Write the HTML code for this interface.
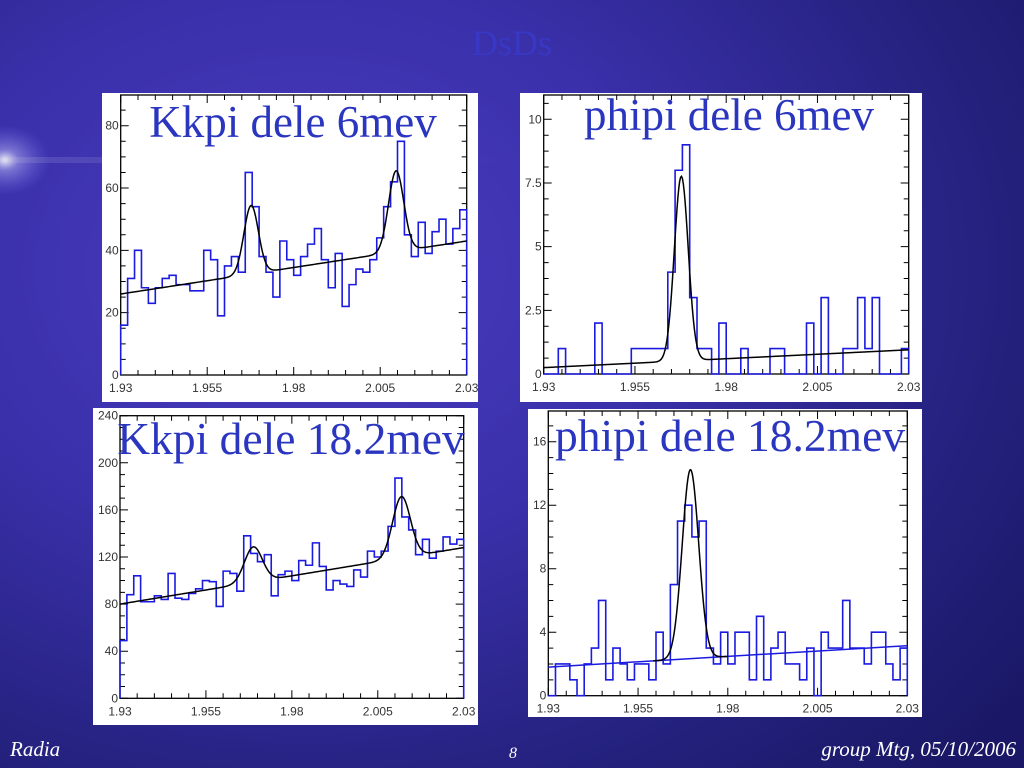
<!DOCTYPE html>
<html><head><meta charset="utf-8"><style>
html,body{margin:0;padding:0;width:1024px;height:768px;overflow:hidden}
body{background:radial-gradient(ellipse 900px 700px at 30% 35%,#4a3cc0 0%,#3a30aa 40%,#22207a 80%,#1a1866 100%);font-family:"Liberation Sans",sans-serif}
svg{position:absolute;left:0;top:0}
</style></head><body>
<svg id="s" width="1024" height="768">
<defs>
<radialGradient id="flare" cx="0.5" cy="0.5" r="0.5"><stop offset="0" stop-color="#fff" stop-opacity="0.9"/><stop offset="0.3" stop-color="#c8c8ff" stop-opacity="0.45"/><stop offset="1" stop-color="#8080ff" stop-opacity="0"/></radialGradient>
<linearGradient id="streak" x1="0" x2="1"><stop offset="0" stop-color="#ccd" stop-opacity="0.5"/><stop offset="1" stop-color="#88f" stop-opacity="0"/></linearGradient>
</defs>
<ellipse cx="5" cy="160" rx="45" ry="35" fill="url(#flare)"/>
<rect x="0" y="157" width="520" height="6" fill="url(#streak)" opacity="0.35"/>
<text x="512" y="55" text-anchor="middle" font-family="Liberation Serif, serif" font-size="36" fill="#3838c4">DsDs</text>
<text x="10" y="756" font-family="Liberation Serif, serif" font-style="italic" font-size="21" fill="#fff">Radia</text>
<text x="513" y="758" text-anchor="middle" font-family="Liberation Serif, serif" font-style="italic" font-size="16" fill="#fff">8</text>
<text x="1016" y="756" text-anchor="end" font-family="Liberation Serif, serif" font-style="italic" font-size="21" fill="#fff">group Mtg, 05/10/2006</text>
<g id="charts"></g>
</svg>
<script>
// Shared axis data
const xTicks = [1.93, 1.955, 1.98, 2.005, 2.03];
const xTickLabels = ["1.93", "1.955", "1.98", "2.005", "2.03"];
// Panel 1: Kkpi dele 6mev
const kk6Counts = [16,31,40,28,23,28,31,32,29,29,27,27,40,37,19,35,38,33,65,54,38,33,25,43,37,32,38,42,47,37,28,39,22,29,34,33,37,44,54,62,75,45,38,49,39,46,50,42,47,53];
const kk6Bg = [26, 43];
const kk6Peaks = [[1.9677, 22, 0.0021], [2.0096, 26, 0.0022]];
const kk6YTicks = [0, 20, 40, 60, 80];
// Panel 2: phipi dele 6mev
const pp6Counts = [0,0,1,0,0,0,0,2,0,0,0,0,1,1,1,1,1,4,8,9,3,1,1,0,2,0,0,1,0,0,0,1,1,0,0,0,2,0,3,0,0,1,1,3,1,3,0,0,0,1];
const pp6Bg = [0.25, 0.95];
const pp6Peaks = [[1.9677, 7.25, 0.0019]];
const pp6YTicks = [0, 2.5, 5, 7.5, 10];
const pp6YLabels = ["0", "2.5", "5", "7.5", "10"];
// Panel 3: Kkpi dele 18.2mev
const kk18Counts = [49,88,104,82,82,87,84,106,85,84,89,93,100,99,78,108,106,91,138,123,116,122,87,105,108,100,117,113,132,112,92,100,97,95,109,103,125,120,125,146,187,154,143,122,135,119,125,137,131,135];
const kk18Bg = [80, 128];
const kk18Peaks = [[1.9688, 30, 0.0026], [2.0119, 52, 0.0026]];
const kk18YTicks = [0, 40, 80, 120, 160, 200, 240];
// Panel 4: phipi dele 18.2mev
const pp18Counts = [0,2,2,1,0,2,3,6,1,3,2,1,2,2,1,4,2,7,11,12,10,11,3,2,4,2,4,4,1,5,1,3,4,2,2,1,3,0,4,3,3,6,3,3,2,4,4,2,1,3];
const pp18Bg = [1.8, 3.15];
const pp18Peaks = [[1.9696, 11.9, 0.0023]];
const pp18YTicks = [0, 4, 8, 12, 16];

const NS = "http://www.w3.org/2000/svg";
const root = document.getElementById('charts');
function mk(tag, attrs, parent) {
  const e = document.createElementNS(NS, tag);
  for (const k in attrs) e.setAttribute(k, attrs[k]);
  parent.appendChild(e);
  return e;
}
function panel(cfg, counts, bg, peaks, yTicks, yLabels) {
  const g = mk('g', {}, root);
  
  
  const bgRect = mk('rect', {x: cfg.bx, y: cfg.by, width: cfg.bw, height: cfg.bh, fill: '#fff'}, g);
  
  
  const xmin = 1.93, xmax = 2.03;
  const X = v => cfg.x0 + (v - xmin) / (xmax - xmin) * (cfg.x1 - cfg.x0);
  const Y = v => cfg.y0 - v / cfg.yRef * (cfg.y0 - cfg.yRefPx);
  const fr = mk('rect', {x: cfg.x0, y: cfg.top, width: cfg.x1 - cfg.x0, height: cfg.y0 - cfg.top, fill: 'none', stroke: '#000', 'stroke-width': 1.3}, g);
  
  
  let d = '';
  for (let i = 0; i <= 20; i++) {
    const v = xmin + i * 0.005, px = X(v), L = (i % 5 === 0) ? 8 : 5;
    d += `M${px},${cfg.y0}v${-L}M${px},${cfg.top}v${L}`;
  }
  const yMaxV = (cfg.y0 - cfg.top) / (cfg.y0 - cfg.yRefPx) * cfg.yRef;
  const step = yTicks[1] - yTicks[0];
  for (let v = 0; v <= yMaxV; v += step / 4) {
    const py = Y(v), major = Math.abs(v / step - Math.round(v / step)) < 1e-6, L = major ? 8 : 5;
    d += `M${cfg.x0},${py}h${L}M${cfg.x1},${py}h${-L}`;
  }
  const tk = mk('path', {d: d, stroke: '#000', 'stroke-width': 1, fill: 'none'}, g);
  
  
  xTicks.forEach((v, i) => {
    const t = mk('text', {x: X(v), y: cfg.y0 + 17, 'text-anchor': 'middle', 'font-size': 12, fill: '#333'}, g);
    t.textContent = xTickLabels[i];
    
    
  });
  yTicks.forEach((v, i) => {
    const t = mk('text', {x: cfg.x0 - 2, y: Y(v) + 4, 'text-anchor': 'end', 'font-size': 12, fill: '#333'}, g);
    t.textContent = yLabels ? yLabels[i] : String(v);
    
    
  });
  const bw = (xmax - xmin) / counts.length;
  let h = `M${X(xmin)},${Y(0)}`;
  counts.forEach((c, i) => { h += `L${X(xmin + i * bw)},${Y(c)}L${X(xmin + (i + 1) * bw)},${Y(c)}`; });
  h += `L${X(xmax)},${Y(0)}`;
  const hist = mk('path', {d: h, stroke: '#1a1ae0', 'stroke-width': 1.6, fill: 'none'}, g);
  
  
  const bgf = x => bg[0] + (bg[1] - bg[0]) * (x - xmin) / (xmax - xmin);
  const fit = x => bgf(x) + peaks.reduce((s, p) => s + p[1] * Math.exp(-0.5 * Math.pow((x - p[0]) / p[2], 2)), 0);
  let f = '', lo = xmin, hi = xmax;
  if (cfg.blueBg) {
    const bl = mk('line', {x1: X(xmin), y1: Y(bg[0]), x2: X(xmax), y2: Y(bg[1]), stroke: '#1a1ae0', 'stroke-width': 1.5}, g);
    
    
    lo = peaks[0][0] - 4.5 * peaks[0][2]; hi = peaks[0][0] + 4.5 * peaks[0][2];
  }
  for (let i = 0; i <= 400; i++) { const x = lo + (hi - lo) * i / 400; f += (i ? 'L' : 'M') + X(x).toFixed(2) + ',' + Y(fit(x)).toFixed(2); }
  const fp = mk('path', {d: f, stroke: '#000', 'stroke-width': 1.5, fill: 'none'}, g);
  
  
  const tt = mk('text', {x: cfg.tx, y: cfg.ty, 'text-anchor': 'middle', 'font-family': 'Liberation Serif, serif', 'font-size': cfg.ts, fill: '#2a35c0'}, g);
  tt.textContent = cfg.title;
  
  
}
panel({name:'chart-kkpi-6mev', bx:102, by:93, bw:376, bh:309, x0:120.7, x1:466.7, y0:375, top:95, yRef:80, yRefPx:125.7, title:'Kkpi dele 6mev', tx:293, ty:137, ts:45}, kk6Counts, kk6Bg, kk6Peaks, kk6YTicks);
panel({name:'chart-phipi-6mev', bx:520, by:93, bw:402, bh:309, x0:543.7, x1:908.7, y0:374, top:95, yRef:10, yRefPx:119.3, title:'phipi dele 6mev', tx:729, ty:130, ts:45}, pp6Counts, pp6Bg, pp6Peaks, pp6YTicks, pp6YLabels);
panel({name:'chart-kkpi-18mev', bx:93, by:408, bw:385, bh:317, x0:120, x1:463.7, y0:698.3, top:415.7, yRef:240, yRefPx:415.7, title:'Kkpi dele 18.2mev', tx:291, ty:454, ts:45.5}, kk18Counts, kk18Bg, kk18Peaks, kk18YTicks);
panel({name:'chart-phipi-18mev', bx:528, by:409, bw:394, bh:308, x0:548.3, x1:907.3, y0:695.7, top:411, yRef:16, yRefPx:441.7, title:'phipi dele 18.2mev', tx:730, ty:451, ts:45.5, blueBg:true}, pp18Counts, pp18Bg, pp18Peaks, pp18YTicks);
</script>
</body></html>
